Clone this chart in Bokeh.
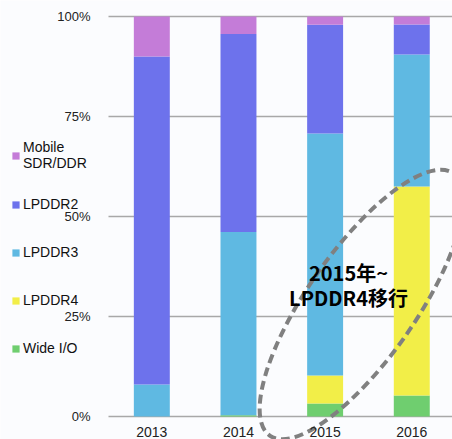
from bokeh.plotting import figure
from bokeh.models import (ColumnDataSource, Range1d, FixedTicker, Legend, LegendItem, Label)
from bokeh.embed import file_html
from bokeh.resources import INLINE
import math

# ---- data ----
years = ["2013", "2014", "2015", "2016"]
wide_io = [0.0, 0.3, 3.25, 5.25]
lpddr4 = [0.0, 0.0, 7.0, 52.25]
lpddr3 = [8.0, 45.8, 60.5, 33.0]
lpddr2 = [82.0, 49.5, 27.2, 7.5]
mobile = [10.0, 4.4, 2.05, 2.0]
series_names = ["Wide I/O", "LPDDR4", "LPDDR3", "LPDDR2", "Mobile\nSDR/DDR"]
series_keys = ["wide", "lp4", "lp3", "lp2", "mob"]
series_colors = ["#6fce6f", "#f2ee48", "#5fb9e2", "#6d72ec", "#c47cd8"]
y_ticks = [0, 25, 50, 75, 100]
y_tick_labels = ["0%", "25%", "50%", "75%", "100%"]
note_lines = ["2015年~", "LPDDR4移行"]

xpos = [i + 0.5 for i in range(len(years))]
src = ColumnDataSource(dict(x=xpos, wide=wide_io, lp4=lpddr4, lp3=lpddr3,
                            lp2=lpddr2, mob=mobile))

X0, X1 = -1.2464, 3.97
p = figure(width=452, height=439, output_backend="svg", toolbar_location=None,
           x_range=Range1d(X0, X1), y_range=Range1d(-5.75, 104),
           min_border_left=0, min_border_right=0, min_border_top=0,
           min_border_bottom=0)
p.background_fill_color = "#fbfcfe"
p.border_fill_color = "#fbfcfe"
p.outline_line_color = None

rs = p.vbar_stack(series_keys, x="x", width=0.415, source=src,
                  color=series_colors, line_color=None)

# axes (placed inside the frame at fixed data locations)
p.yaxis.fixed_location = 0
p.yaxis.ticker = FixedTicker(ticks=y_ticks)
p.yaxis.major_label_overrides = {t: l for t, l in zip(y_ticks, y_tick_labels)}
p.yaxis.axis_line_color = None
p.yaxis.major_tick_line_color = None
p.yaxis.minor_tick_line_color = None
p.yaxis.major_label_standoff = 12
p.yaxis.major_label_text_font = "Liberation Sans"
p.yaxis.major_label_text_font_size = "13px"
p.yaxis.major_label_text_color = "#222222"

p.xaxis.fixed_location = 0
p.xaxis.ticker = FixedTicker(ticks=xpos)
p.xaxis.major_label_overrides = {x: y for x, y in zip(xpos, years)}
p.xaxis.axis_line_color = None
p.xaxis.major_tick_line_color = None
p.xaxis.minor_tick_line_color = None
p.xaxis.major_label_standoff = 4
p.xaxis.major_label_text_font = "Liberation Sans"
p.xaxis.major_label_text_font_size = "14px"
p.xaxis.major_label_text_color = "#222222"

p.xgrid.grid_line_color = None
p.ygrid.ticker = FixedTicker(ticks=y_ticks)
p.ygrid.cross_bounds = (0, X1)
p.ygrid.grid_line_color = "#a8a8a8"
p.ygrid.grid_line_width = 1.5

# legend (top to bottom = reversed stack order)
items = [LegendItem(label=n, renderers=[r]) for n, r in zip(series_names, rs)][::-1]
legend = Legend(items=items, location=(11, 76), padding=0, margin=0,
                spacing=18, glyph_width=9, glyph_height=9, label_standoff=3,
                label_text_font="Liberation Sans", label_text_font_size="14px",
                label_text_line_height=1.0,
                label_text_color="#111111", background_fill_alpha=0,
                border_line_color=None, label_height=30)
p.add_layout(legend, "center")

# annotation
p.ellipse(x=[2.92], y=[28], width=[320], height=[108], angle=[math.radians(55)],
          width_units="screen", height_units="screen", fill_color=None,
          line_color="#808080", line_width=4, line_dash="9 5")
for txt, yy in zip(note_lines, [36.0, 29.75]):
    p.add_layout(Label(x=2.77, y=yy, text=txt, text_align="center",
                       text_baseline="middle", text_font="Noto Sans CJK JP",
                       text_font_style="bold", text_font_size="20px",
                       text_color="#000000"))

open("out.html", "w").write(file_html(p, INLINE))
